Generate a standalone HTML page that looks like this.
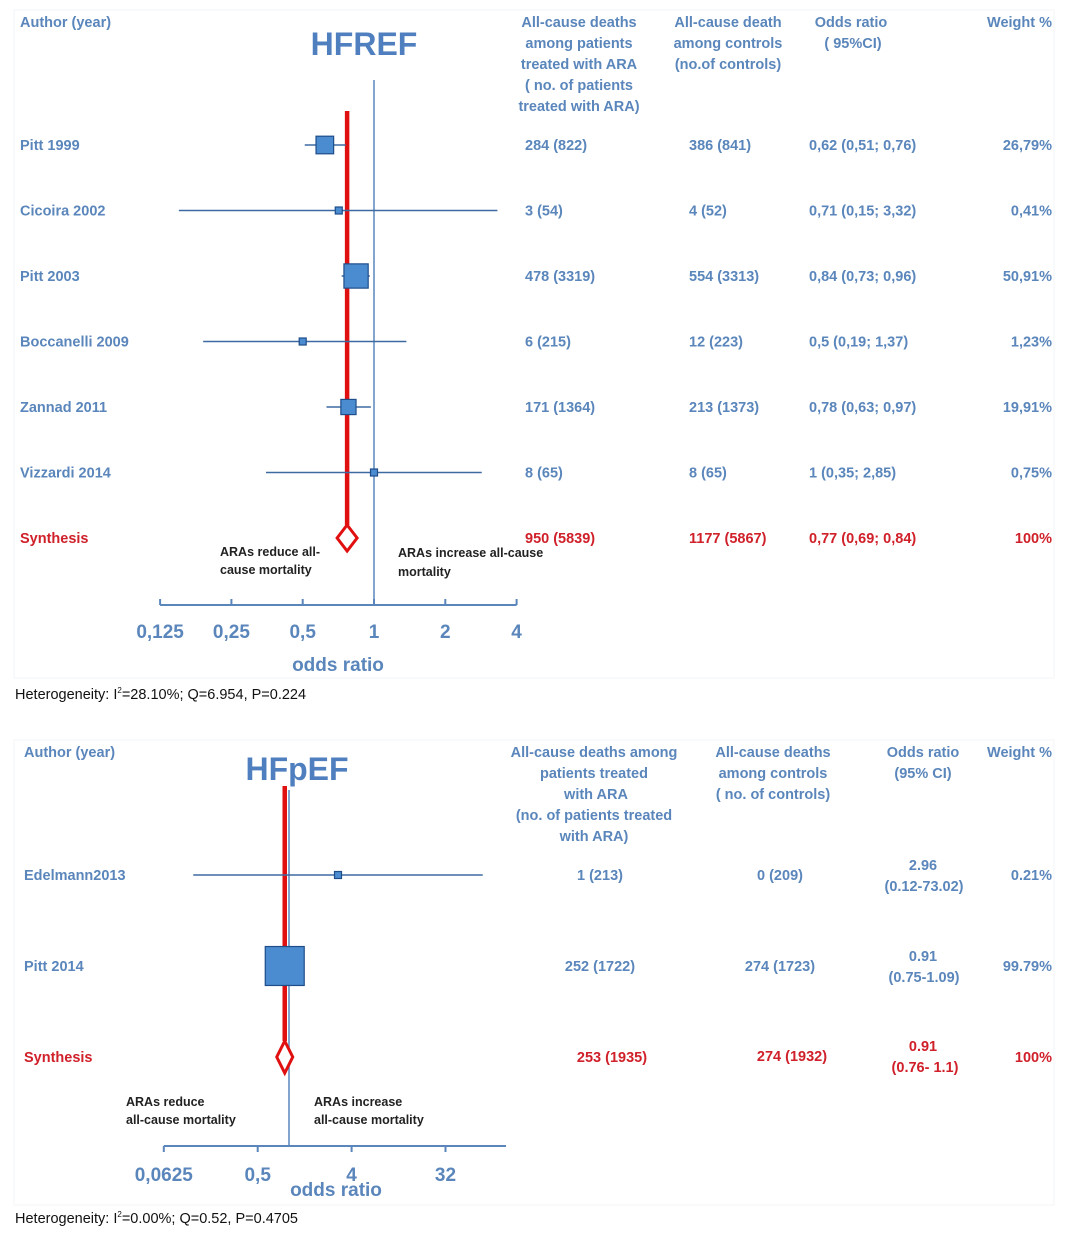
<!DOCTYPE html>
<html><head><meta charset="utf-8"><style>
body{margin:0;background:#fff;}
svg{display:block;font-family:"Liberation Sans",sans-serif;}
.b{fill:#5a86bb;font-size:14.5px;font-weight:bold;}
.r{fill:#d0202a;font-size:14.5px;font-weight:bold;}
.k{fill:#222;font-size:12.5px;font-weight:bold;}
</style></head><body>
<svg id="s" width="1091" height="1233" viewBox="0 0 1091 1233">
<rect x="14" y="10" width="1040" height="668" fill="#fff" stroke="#f2f5f8"/>
<rect x="14" y="740" width="1040" height="465" fill="#fff" stroke="#f2f5f8"/>
<g id="gtop">
<text class="b" x="20" y="27">Author (year)</text>
<text x="364" y="55" text-anchor="middle" style="font-size:32px;font-weight:bold;fill:#4f7fbf">HFREF</text>
<text class="b" text-anchor="middle"><tspan x="579" y="27">All-cause deaths</tspan><tspan x="579" y="48">among patients</tspan><tspan x="579" y="69">treated with ARA</tspan><tspan x="579" y="90">( no. of patients</tspan><tspan x="579" y="111">treated with ARA)</tspan></text>
<text class="b" text-anchor="middle"><tspan x="728" y="27">All-cause death</tspan><tspan x="728" y="48">among  controls</tspan><tspan x="728" y="69">(no.of controls)</tspan></text>
<text class="b" text-anchor="middle"><tspan x="851" y="27">Odds ratio</tspan><tspan x="853" y="48">( 95%CI)</tspan></text>
<text class="b" x="1052" y="27" text-anchor="end">Weight %</text>
</g>
<g id="gbot">
<text class="b" x="24" y="757">Author (year)</text>
<text x="297" y="780" text-anchor="middle" style="font-size:32px;font-weight:bold;fill:#4f7fbf">HFpEF</text>
<text class="b" text-anchor="middle"><tspan x="594" y="757">All-cause  deaths among</tspan><tspan x="594" y="778">patients treated</tspan><tspan x="596" y="799">with ARA</tspan><tspan x="594" y="820">(no. of patients treated</tspan><tspan x="594" y="841">with  ARA)</tspan></text>
<text class="b" text-anchor="middle"><tspan x="773" y="757">All-cause deaths</tspan><tspan x="773" y="778">among controls</tspan><tspan x="773" y="799">( no. of  controls)</tspan></text>
<text class="b" text-anchor="middle"><tspan x="923" y="757">Odds ratio</tspan><tspan x="923" y="778">(95% CI)</tspan></text>
<text class="b" x="1052" y="757" text-anchor="end">Weight %</text>
</g>
<text x="15" y="699" style="font-size:14.5px;fill:#111">Heterogeneity: I<tspan dy="-6" style="font-size:8px">2</tspan><tspan dy="6">=28.10%; Q=6.954, P=0.224</tspan></text>
<text x="15" y="1223" style="font-size:14.5px;fill:#111">Heterogeneity: I<tspan dy="-6" style="font-size:8px">2</tspan><tspan dy="6">=0.00%; Q=0.52, P=0.4705</tspan></text>
</svg>
<script>
// HFREF data
const studies1 = ["Pitt 1999","Cicoira 2002","Pitt 2003","Boccanelli 2009","Zannad 2011","Vizzardi 2014"];
const or1 = [0.62,0.71,0.84,0.5,0.78,1];
const lo1 = [0.51,0.15,0.73,0.19,0.63,0.35];
const hi1 = [0.76,3.32,0.96,1.37,0.97,2.85];
const weight1 = [26.79,0.41,50.91,1.23,19.91,0.75];
const treated1 = ["284 (822)","3 (54)","478 (3319)","6 (215)","171 (1364)","8 (65)"];
const control1 = ["386 (841)","4 (52)","554 (3313)","12 (223)","213 (1373)","8 (65)"];
const orText1 = ["0,62 (0,51; 0,76)","0,71 (0,15; 3,32)","0,84 (0,73; 0,96)","0,5 (0,19; 1,37)","0,78 (0,63; 0,97)","1 (0,35; 2,85)"];
const wText1 = ["26,79%","0,41%","50,91%","1,23%","19,91%","0,75%"];
const synth1 = {or:0.77, treated:"950 (5839)", control:"1177 (5867)", orText:"0,77 (0,69; 0,84)", w:"100%"};
const ticks1 = [0.125,0.25,0.5,1,2,4];
const tickLabels1 = ["0,125","0,25","0,5","1","2","4"];
// HFpEF data
const studies2 = ["Edelmann2013","Pitt 2014"];
const or2 = [2.96,0.91];
const lo2 = [0.12,0.75];
const hi2 = [73.02,1.09];
const weight2 = [0.21,99.79];
const treated2 = ["1 (213)","252 (1722)"];
const control2 = ["0 (209)","274 (1723)"];
const orA2 = ["2.96","0.91"];
const orB2 = ["(0.12-73.02)","(0.75-1.09)"];
const wText2 = ["0.21%","99.79%"];
const synth2 = {or:0.91, treated:"253 (1935)", control:"274 (1932)", orA:"0.91", orB:"(0.76- 1.1)", w:"100%"};
const ticks2 = [0.0625,0.5,4,32];
const tickLabels2 = ["0,0625","0,5","4","32"];

const NS="http://www.w3.org/2000/svg";
function mk(parent,tag,attrs,text){const e=document.createElementNS(NS,tag);for(const k in attrs)e.setAttribute(k,attrs[k]);if(text!==undefined)e.textContent=text;parent.appendChild(e);return e;}
const gTop=document.getElementById('gtop'), gBot=document.getElementById('gbot');

// ---- HFREF ----
const x1=v=>374+Math.log2(v)*71.3;
const y1=i=>145+i*65.5;
const ys1=y1(6);
let e;
e=mk(gTop,'line',{x1:374,y1:80,x2:374,y2:605,stroke:'#5a86bb','stroke-width':1.5});


e=mk(gTop,'line',{x1:x1(ticks1[0]),y1:605,x2:x1(ticks1[ticks1.length-1]),y2:605,stroke:'#5a86bb','stroke-width':2});


ticks1.forEach((t,i)=>{
  e=mk(gTop,'line',{x1:x1(t),y1:605,x2:x1(t),y2:599,stroke:'#5a86bb','stroke-width':2});
  
  
  e=mk(gTop,'text',{x:x1(t),y:638,'text-anchor':'middle',style:'font-size:19px;font-weight:bold;fill:#5a86bb'},tickLabels1[i]);
  
  
});
e=mk(gTop,'text',{x:338,y:671,'text-anchor':'middle',style:'font-size:19px;font-weight:bold;fill:#5a86bb'},'odds ratio');


e=mk(gTop,'line',{x1:x1(synth1.or),y1:111,x2:x1(synth1.or),y2:ys1-13,stroke:'#e01010','stroke-width':4.5});


studies1.forEach((s,i)=>{
  const y=y1(i);
  e=mk(gTop,'line',{x1:x1(lo1[i]),y1:y,x2:x1(hi1[i]),y2:y,stroke:'#3d6aa3','stroke-width':1.5});
  
  
  const sz=Math.max(7,34*Math.sqrt(weight1[i]/100));
  e=mk(gTop,'rect',{x:x1(or1[i])-sz/2,y:y-sz/2,width:sz,height:sz,fill:'#4a8ccf',stroke:'#1f4d8a','stroke-width':1.2});
  
  
  e=mk(gTop,'text',{class:'b',x:20,y:y+5},s);
  
  
  e=mk(gTop,'text',{class:'b',x:525,y:y+5},treated1[i]);
  
  
  e=mk(gTop,'text',{class:'b',x:689,y:y+5},control1[i]);
  
  
  e=mk(gTop,'text',{class:'b',x:809,y:y+5},orText1[i]);
  
  
  e=mk(gTop,'text',{class:'b',x:1052,y:y+5,'text-anchor':'end'},wText1[i]);
  
  
});
{const cx=x1(synth1.or);
e=mk(gTop,'polygon',{points:`${cx},${ys1-13} ${cx+10},${ys1} ${cx},${ys1+13} ${cx-10},${ys1}`,fill:'#fff',stroke:'#e01010','stroke-width':3});

}
[['Synthesis',20,'start'],[synth1.treated,525,'start'],[synth1.control,689,'start'],[synth1.orText,809,'start'],[synth1.w,1052,'end']].forEach(a=>{
  e=mk(gTop,'text',{class:'r',x:a[1],y:ys1+5,'text-anchor':a[2]},a[0]);
  
  
});
e=mk(gTop,'text',{class:'k'});e.innerHTML='<tspan x="220" y="556">ARAs reduce all-</tspan><tspan x="220" y="574">cause mortality</tspan>';


e=mk(gTop,'text',{class:'k'});e.innerHTML='<tspan x="398" y="557">ARAs increase all-cause</tspan><tspan x="398" y="576">mortality</tspan>';



// ---- HFpEF ----
const x2=v=>289+Math.log2(v)*31.3;
const y2=i=>875+i*91;
const ys2=y2(2);
e=mk(gBot,'line',{x1:289,y1:790,x2:289,y2:1146,stroke:'#5a86bb','stroke-width':1.5});


e=mk(gBot,'line',{x1:x2(ticks2[0]),y1:1146,x2:506,y2:1146,stroke:'#5a86bb','stroke-width':2});


ticks2.forEach((t,i)=>{
  e=mk(gBot,'line',{x1:x2(t),y1:1146,x2:x2(t),y2:1152,stroke:'#5a86bb','stroke-width':2});
  
  
  e=mk(gBot,'text',{x:x2(t),y:1181,'text-anchor':'middle',style:'font-size:19px;font-weight:bold;fill:#5a86bb'},tickLabels2[i]);
  
  
});
e=mk(gBot,'text',{x:336,y:1196,'text-anchor':'middle',style:'font-size:19px;font-weight:bold;fill:#5a86bb'},'odds ratio');


e=mk(gBot,'line',{x1:x2(synth2.or),y1:786,x2:x2(synth2.or),y2:ys2-16,stroke:'#e01010','stroke-width':4.5});


studies2.forEach((s,i)=>{
  const y=y2(i);
  e=mk(gBot,'line',{x1:x2(lo2[i]),y1:y,x2:x2(hi2[i]),y2:y,stroke:'#3d6aa3','stroke-width':1.5});
  
  
  const sz=Math.max(7,39*Math.sqrt(weight2[i]/100));
  e=mk(gBot,'rect',{x:x2(or2[i])-sz/2,y:y-sz/2,width:sz,height:sz,fill:'#4a8ccf',stroke:'#1f4d8a','stroke-width':1.2});
  
  
  e=mk(gBot,'text',{class:'b',x:24,y:y+5},s);
  
  
  e=mk(gBot,'text',{class:'b',x:600,y:y+5,'text-anchor':'middle'},treated2[i]);
  
  
  e=mk(gBot,'text',{class:'b',x:780,y:y+5,'text-anchor':'middle'},control2[i]);
  
  
  e=mk(gBot,'text',{class:'b',x:923,y:y-5,'text-anchor':'middle'},orA2[i]);
  
  
  e=mk(gBot,'text',{class:'b',x:924,y:y+16,'text-anchor':'middle'},orB2[i]);
  
  
  e=mk(gBot,'text',{class:'b',x:1052,y:y+5,'text-anchor':'end'},wText2[i]);
  
  
});
{const cx=x2(synth2.or);
e=mk(gBot,'polygon',{points:`${cx},${ys2-16} ${cx+8},${ys2} ${cx},${ys2+16} ${cx-8},${ys2}`,fill:'#fff',stroke:'#e01010','stroke-width':3});

}
[['Synthesis',24,ys2+5,'start'],[synth2.treated,612,ys2+5,'middle'],[synth2.control,792,ys2+4,'middle'],[synth2.orA,923,ys2-6,'middle'],[synth2.orB,925,ys2+15,'middle'],[synth2.w,1052,ys2+5,'end']].forEach(a=>{
  e=mk(gBot,'text',{class:'r',x:a[1],y:a[2],'text-anchor':a[3]},a[0]);
  
  
});
e=mk(gBot,'text',{class:'k'});e.innerHTML='<tspan x="126" y="1106">ARAs reduce</tspan><tspan x="126" y="1124">all-cause mortality</tspan>';


e=mk(gBot,'text',{class:'k'});e.innerHTML='<tspan x="314" y="1106">ARAs increase</tspan><tspan x="314" y="1124">all-cause mortality</tspan>';


</script>
</body></html>
